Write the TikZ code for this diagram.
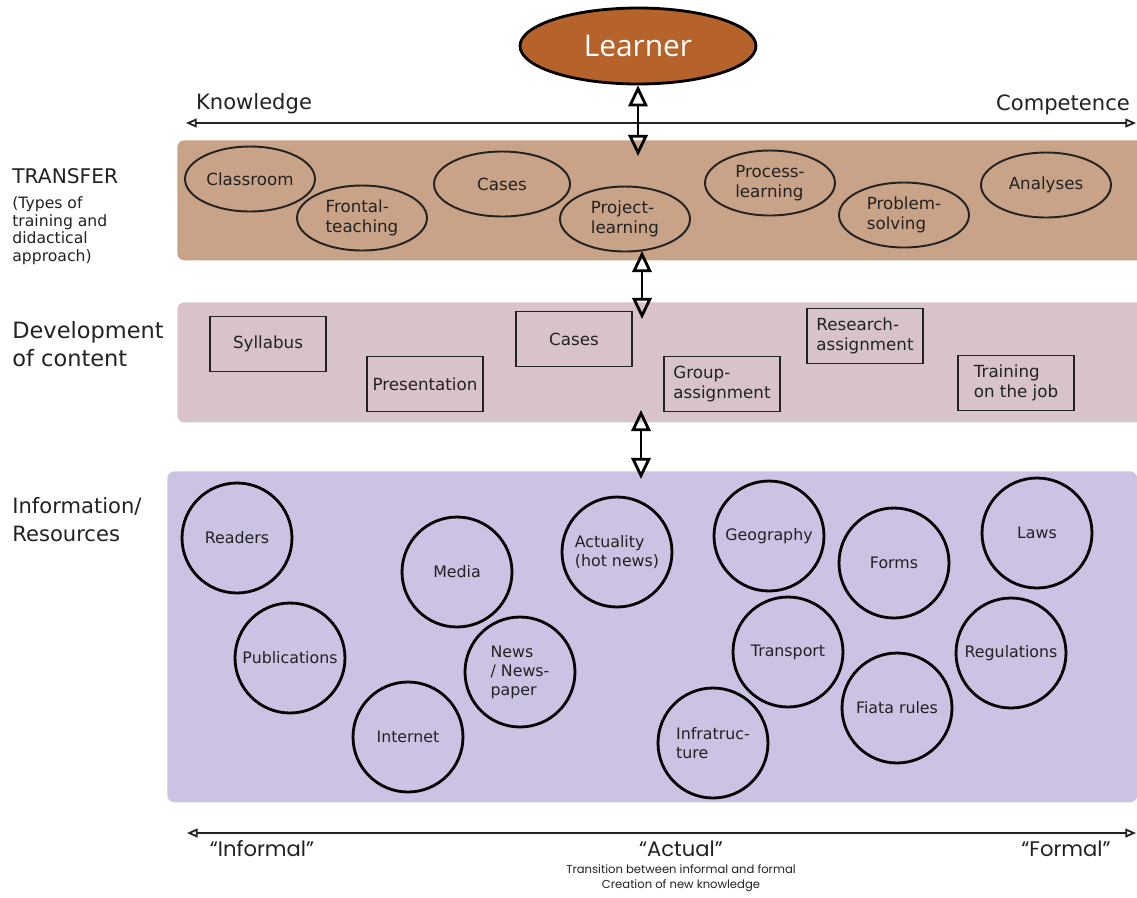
\documentclass[tikz,border=0pt]{standalone}
\usepackage{fontspec}
\setmainfont{DejaVu Sans}
\newfontfamily\gothicfont{Poppins}
\newfontfamily\learnerfont{Open Sans}
\usetikzlibrary{arrows.meta,shapes.geometric,positioning}

\definecolor{learnerbrown}{HTML}{B5622B}
\definecolor{transfertan}{HTML}{C9A388}
\definecolor{contentrose}{HTML}{D8C4C8}
\definecolor{resourcelilac}{HTML}{CCC2E3}
\definecolor{inkgrey}{HTML}{222222}

\tikzset{
	band/.style={fill=#1, rounded corners=4pt, inner sep=0pt, anchor=north west, minimum width=19.4cm},
	method/.style={ellipse, draw=inkgrey, line width=1.1pt, inner sep=-8pt, minimum width=2.6cm,
		minimum height=1.3cm, align=left, text=inkgrey, font=\fontsize{9.5}{11}\selectfont},
	item/.style={rectangle, draw=inkgrey, line width=1.1pt, minimum width=2.32cm, minimum height=1.1cm,
		align=left, text=inkgrey, font=\fontsize{9.5}{11}\selectfont},
	source/.style={circle, draw=black, line width=1.6pt, inner sep=-10pt, minimum size=2.2cm,
		align=left, text=inkgrey, font=\fontsize{9}{10.8}\selectfont},
	linkarrow/.style={line width=1.6pt, {Triangle[open,length=12pt,width=11pt]}-{Triangle[open,length=12pt,width=11pt]}},
	axis/.style={line width=1pt, draw=inkgrey, {Triangle[open,length=6pt,width=5pt]}-{Triangle[open,length=6pt,width=5pt]}},
	sidelabel/.style={anchor=north west, inner sep=0pt, align=left, text=inkgrey},
	scalelabel/.style={text=inkgrey, inner sep=0pt, font=\fontsize{12}{14}\selectfont},
	rangelabel/.style={text=inkgrey, inner sep=0pt, font=\gothicfont\fontsize{12}{14}\selectfont},
}

\begin{document}
\begin{tikzpicture}[x=0.02cm,y=-0.02cm]
	\useasboundingbox[fill=white] (0,0) rectangle (1137,897);

	% bands
	\node[band=transfertan, minimum height=2.4cm] (transfer) at (177,140) {};
	\node[band=contentrose, minimum height=2.4cm] (content) at (177,302) {};
	\node[band=resourcelilac, minimum height=6.62cm] (resources) at (167,471) {};

	% learner and scale
	\node[ellipse, fill=learnerbrown, draw=black, line width=1.6pt, minimum width=4.72cm, minimum height=1.52cm,
		text=white, font=\learnerfont\fontsize{17}{20}\selectfont] (learner) at (638,46) {Learner};
	\coordinate (kl) at (186,123);
	\coordinate (kr) at (1136,123);
	\draw[axis] (kl) -- (kr);
	\node[scalelabel] (knowledge) at (254,104) {Knowledge};
	\node[scalelabel] (competence) at (1063,105) {Competence};

	% side labels
	\node[sidelabel, font=\fontsize{11.5}{13}\selectfont] (transferlbl) at (12,168) {TRANSFER};
	\node[sidelabel, font=\fontsize{8.9}{10}\selectfont, below=7pt of transferlbl.south west, anchor=north west]
		(transfersub) {(Types of\\training and\\didactical\\approach)};
	\node[sidelabel, font=\fontsize{12.8}{16}\selectfont] (contentlbl) at (12,321) {Development\\of content};
	\node[sidelabel, font=\fontsize{12}{16}\selectfont] (resourcelbl) at (12,497) {Information/\\Resources};

	% transfer
	\node[method] (classroom) at (250,179) {Classroom};
	\node[method] (frontal) at (362,218) {Frontal-\\teaching};
	\node[method, minimum width=2.72cm] (tcases) at (502,184) {Cases};
	\node[method] (project) at (625,219) {Project-\\learning};
	\node[method] (process) at (770,183) {Process-\\learning};
	\node[method] (problem) at (904,215) {Problem-\\solving};
	\node[method] (analyses) at (1046,185) {Analyses};

	% content
	\node[item] (syllabus) at (268,344) {Syllabus};
	\node[item] (presentation) at (425,384) {Presentation};
	\node[item] (ccases) at (574,339) {Cases};
	\node[item] (group) at (722,384) {Group-\\assignment};
	\node[item] (research) at (865,336) {Research-\\assignment};
	\node[item] (training) at (1016,383) {Training\\on the job};

	% resources
	\node[source] (readers) at (237,538) {Readers};
	\node[source] (media) at (457,572) {Media};
	\node[source] (actuality) at (617,552) {Actuality\\(hot news)};
	\node[source] (publications) at (290,658) {Publications};
	\node[source] (news) at (520,672) {News\\/ News-\\paper};
	\node[source] (internet) at (408,737) {Internet};
	\node[source] (geography) at (769,536) {Geography};
	\node[source] (forms) at (894,563) {Forms};
	\node[source] (laws) at (1037,533) {Laws};
	\node[source] (transport) at (788,652) {Transport};
	\node[source] (regulations) at (1011,653) {Regulations};
	\node[source] (fiata) at (897,708) {Fiata rules};
	\node[source] (infra) at (713,743) {Infratruc-\\ture};

	% links between levels
	\coordinate (t1) at (638,156);
	\coordinate (m1) at (642,251);
	\coordinate (m2) at (642,319);
	\coordinate (r1) at (641,410);
	\coordinate (r2) at (641,479);
	\draw[linkarrow] (learner.south) -- (t1);
	\draw[linkarrow] (m1) -- (m2);
	\draw[linkarrow] (r1) -- (r2);

	% informal / formal scale
	\coordinate (il) at (187,833);
	\coordinate (ir) at (1136,833);
	\draw[axis] (il) -- (ir);
	\node[rangelabel] (informal) at (262,849) {“Informal”};
	\node[rangelabel] (actual) at (681,849) {“Actual”};
	\node[rangelabel] (formal) at (1066,849) {“Formal”};
	\node[text=inkgrey, inner sep=0pt, align=center, font=\gothicfont\fontsize{6.6}{8.4}\selectfont,
		below=4pt of actual] (transition) {Transition between informal and formal\\Creation of new knowledge};
\end{tikzpicture}
\end{document}
